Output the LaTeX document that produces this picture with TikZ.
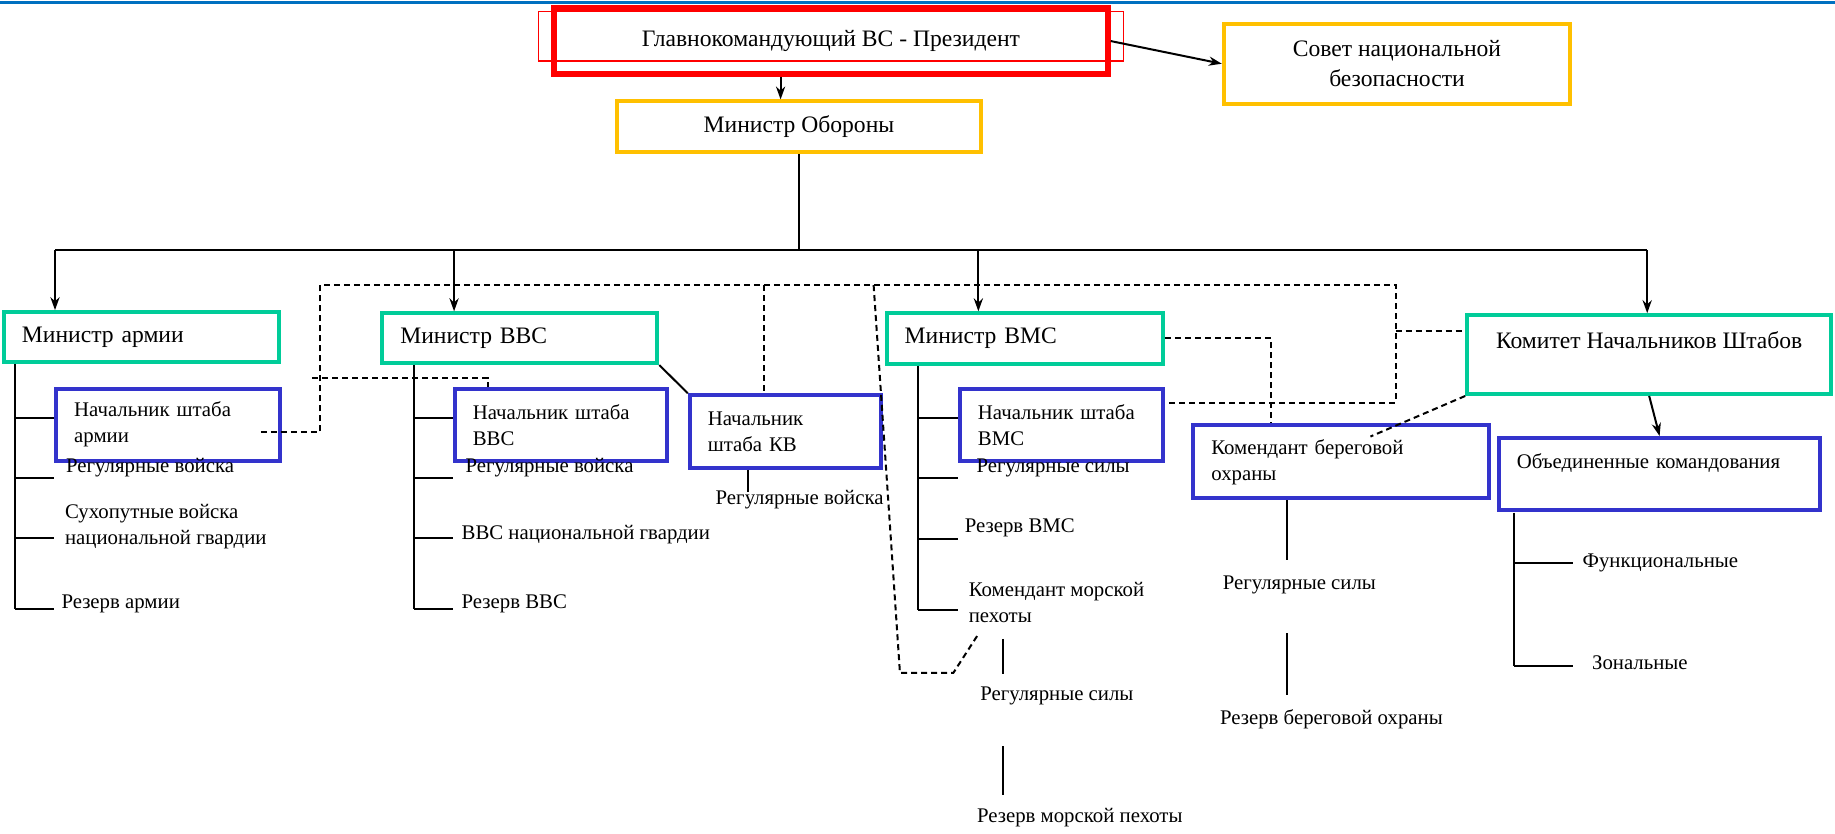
\documentclass[tikz,border=0pt]{standalone}
\usepackage{fontspec}
\setmainfont{Liberation Serif}
\usetikzlibrary{arrows.meta}
\definecolor{chiefred}{RGB}{255,0,0}
\definecolor{ambr}{RGB}{255,192,0}
\definecolor{mingreen}{RGB}{0,204,153}
\definecolor{staffblue}{RGB}{51,51,204}
\definecolor{topblue}{RGB}{0,112,192}
\newcommand{\bigf}{\fontsize{11.8pt}{15pt}\selectfont}
\newcommand{\smf}{\fontsize{10.4pt}{13pt}\selectfont}

\begin{document}
\begin{tikzpicture}[x=0.5852pt,y=-0.5852pt,line width=1pt,>={Stealth[length=6.5pt,width=4.6pt]},
	box/.style={draw,line width=2pt,inner xsep=9pt,inner ysep=0pt,anchor=north west},
	chief/.style={box,font=\bigf,align=center},
	minbox/.style={box,draw=mingreen,font=\bigf,align=left},
	staffbox/.style={box,draw=staffblue,font=\smf,align=left},
	lbl/.style={anchor=west,inner sep=0pt,font=\smf,align=left},
	liaison/.style={dash pattern=on 3pt off 2pt}]
	\useasboundingbox (0,0) rectangle (1568,712);
	\draw[topblue,line width=1.2pt] (0,2) -- (1568,2);
	% top level
	\draw[chiefred,line width=0.7pt] (460,10) rectangle (960,52);
	\node[chief,draw=chiefred,line width=3pt,minimum width=276.8pt,minimum height=32.8pt] (pres) at (471,4.5) {Главнокомандующий ВС - Президент};
	\node[chief,draw=ambr,minimum width=173.2pt,minimum height=40.1pt] (sovet) at (1044,18.5) {Совет национальной\\безопасности};
	\node[chief,draw=ambr,minimum width=182pt,minimum height=25.2pt] (mo) at (525.5,85) {Министр Обороны};
	\draw[->] (pres.south -| 667,0) -- (mo.north -| 667,0);
	\draw[->] (pres.east) -- (sovet.west);
	% ministers
	\node[minbox,minimum width=137.4pt,minimum height=24.9pt,text width=119.4pt] (army) at (1.7,265) {Министр армии};
	\node[minbox,minimum width=137.5pt,minimum height=24.9pt,text width=119.5pt] (af) at (325,266) {Министр ВВС};
	\node[minbox,minimum width=138.1pt,minimum height=25.2pt,text width=120.1pt] (navy) at (756,266) {Министр ВМС};
	\node[chief,draw=mingreen,minimum width=182pt,minimum height=39.4pt,text depth=15pt] (jcs) at (1252,267.6) {Комитет Начальников Штабов};
	\draw (mo.south) -- (mo.south |- 0,214);
	\draw (47,214) -- (1407.5,214);
	\foreach \x/\n in {47/army,388/af,836/navy,1407.5/jcs}\draw[->] (\x,214) -- (\n.north -| \x,0);
	% chiefs of staff
	\node[staffbox,minimum width=111.9pt,minimum height=36pt,text width=93.9pt] (csa) at (46.3,330.4) {Начальник штаба\\армии};
	\node[staffbox,minimum width=106pt,minimum height=36pt,text width=88pt] (csaf) at (386.9,330.4) {Начальник штаба\\ВВС};
	\node[staffbox,minimum width=95.6pt,minimum height=36.3pt,text width=77.6pt] (csg) at (587.7,336) {Начальник\\штаба КВ};
	\node[staffbox,minimum width=101.8pt,minimum height=36pt,text width=83.8pt] (cno) at (818.5,330.4) {Начальник штаба\\ВМС};
	\node[staffbox,minimum width=147.8pt,minimum height=36.5pt,text width=129.8pt] (uscg) at (1018,361.7) {Комендант береговой\\охраны};
	\node[staffbox,minimum width=160.8pt,minimum height=36.2pt,text width=142.8pt,text depth=12.8pt] (ucc) at (1279,372.6) {Объединенные командования};
	\draw[->] (jcs.south) -- (ucc.north);
	\draw (af.south east) -- (csg.north west);
	% forces
	\node[lbl] (armreg) at (55.7,400) {Регулярные войска};
	\node[lbl] (armng) at (54.7,450) {Сухопутные войска\\национальной гвардии};
	\node[lbl] (armres) at (51.7,515.6) {Резерв армии};
	\node[lbl] (afreg) at (397,400) {Регулярные войска};
	\node[lbl] (afng) at (393.6,457) {ВВС национальной гвардии};
	\node[lbl] (afres) at (393.6,515.6) {Резерв ВВС};
	\node[lbl] (sfreg) at (610.7,427) {Регулярные войска};
	\node[lbl] (navreg) at (833.6,400) {Регулярные силы};
	\node[lbl] (navres) at (823.6,451) {Резерв ВМС};
	\node[lbl] (cmc) at (827,515) {Комендант морской\\пехоты};
	\node[lbl] (mcreg) at (836.8,595) {Регулярные силы};
	\node[lbl] (mcres) at (834,699) {Резерв морской пехоты};
	\node[lbl] (cgreg) at (1044,500) {Регулярные силы};
	\node[lbl] (cgres) at (1041.7,615) {Резерв береговой охраны};
	\node[lbl] (func) at (1351.5,481) {Функциональные};
	\node[lbl] (zone) at (1359.6,566.6) {Зональные};
	% trees
	\draw (12.5,0 |- army.south) -- (12.5,520.5);
	\foreach \y in {357,408.6,460,520.5}\draw (12.5,\y) -- (46.3,\y);
	\draw (353.8,0 |- af.south) -- (353.8,520.5);
	\foreach \y in {357,408.6,460,520.5}\draw (353.8,\y) -- (386.9,\y);
	\draw (784.7,0 |- navy.south) -- (784.7,521);
	\foreach \y in {357.5,408.6,460.6,521}\draw (784.7,\y) -- (818.5,\y);
	\draw (639,0 |- csg.south) -- (639,420);
	\draw (856.8,546) -- (856.8,576);
	\draw (856.8,637.5) -- (856.8,679);
	\draw (1099.5,0 |- uscg.south) -- (1099.5,478.5);
	\draw (1099.5,541) -- (1099.5,594);
	\draw (1293.3,438) -- (1293.3,569);
	\foreach \y in {481.4,569}\draw (1293.3,\y) -- (1344,\y);
	% coordination links
	\draw[liaison] (csa.east) ++(-18,6.3) -| (273.6,243.6) -| (1192.5,344) -- (cno.east |- 0,344);
	\draw[liaison] (266.8,323) -| (417,0 |- csaf.north);
	\draw[liaison] (653,243.6) -- (653,0 |- csg.north);
	\draw[liaison] (746.5,243.6) -- (769,575) -- (814.6,575) -- (836,541.8);
	\draw[liaison] (1192.5,283) -- (jcs.west |- 0,283);
	\draw[liaison] (navy.east) -| (1086,0 |- uscg.north);
	\draw[liaison] (jcs.south west) -- (1171,373);
\end{tikzpicture}
\end{document}
